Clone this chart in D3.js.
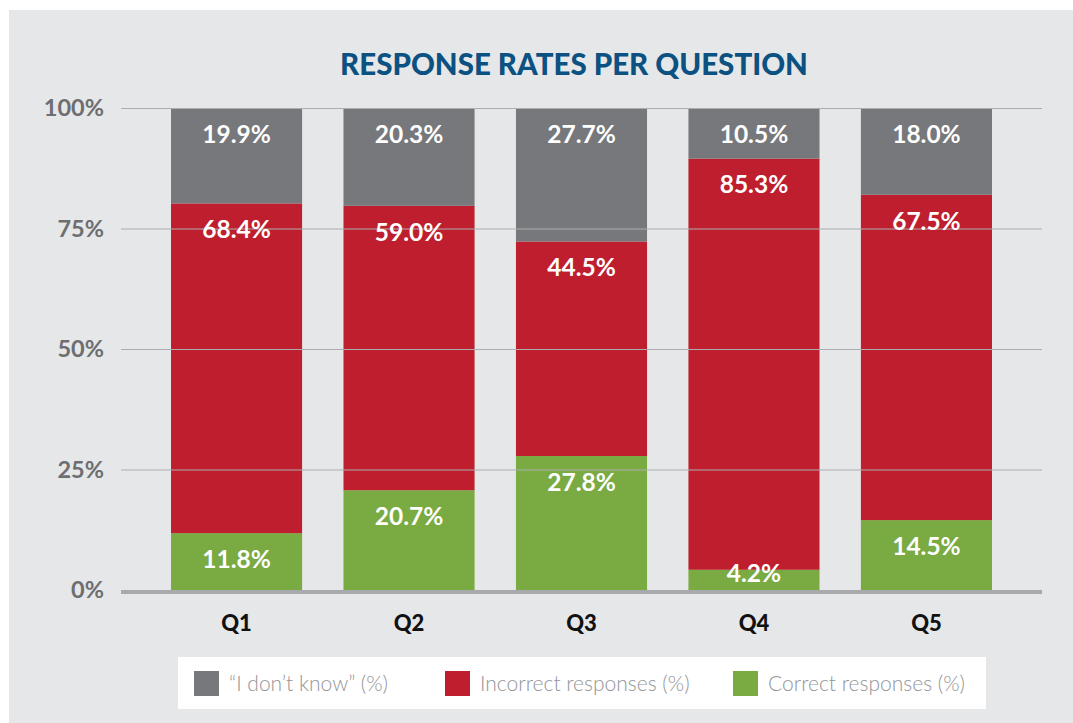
<!DOCTYPE html>
<html><head><meta charset="utf-8">
<script src="https://cdn.jsdelivr.net/npm/d3@7"></script>
<style>html,body{margin:0;padding:0;background:#fff;}</style>
</head><body>
<svg id="chart" width="1073" height="723"></svg>
<script>
const questions = ["Q1","Q2","Q3","Q4","Q5"];
const correct   = [11.8, 20.7, 27.8, 4.2, 14.5];
const incorrect = [68.4, 59.0, 44.5, 85.3, 67.5];
const dontKnow  = [19.9, 20.3, 27.7, 10.5, 18.0];
const yTicks = [0, 25, 50, 75, 100];
const seriesNames = ["\u201CI don\u2019t know\u201D (%)", "Incorrect responses (%)", "Correct responses (%)"];
const seriesColors = ["#77787b", "#be1e2d", "#7aaa42"];

const svg = d3.select("#chart");
svg.append("rect").attr("x", 9).attr("y", 10).attr("width", 1064).attr("height", 713).attr("fill", "#e6e7e8");

const x = d3.scaleBand().domain(questions).range([121, 1042]).paddingInner(0.24).paddingOuter(0.29);
const y = d3.scaleLinear().domain([0, 100]).range([590, 108]);

svg.append("text").attr("x", 574).attr("y", 74.5).attr("text-anchor", "middle")
  .attr("font-family", "Lato, sans-serif").attr("font-weight", 900).attr("font-size", 29.5)
  .attr("fill", "#0b5182").text("RESPONSE RATES PER QUESTION");

// stacked segments: bottom-up correct, incorrect, don't know
const stackVals = [correct, incorrect, dontKnow];
const stackColors = [seriesColors[2], seriesColors[1], seriesColors[0]];
const segs = [];
questions.forEach((q, i) => {
  let base = 0;
  stackVals.forEach((arr, k) => {
    const top = Math.min(100, base + arr[i]);
    segs.push({q, v: arr[i], y0: base, y1: top, color: stackColors[k]});
    base = top;
  });
});

svg.append("g").selectAll("rect").data(segs).join("rect")
  .attr("x", d => x(d.q)).attr("width", x.bandwidth())
  .attr("y", d => y(d.y1)).attr("height", d => y(d.y0) - y(d.y1))
  .attr("fill", d => d.color);

// gridlines
svg.append("g").selectAll("line").data(yTicks.filter(t => t > 0)).join("line")
  .attr("x1", 121).attr("x2", 1042).attr("y1", d => y(d) + 0.5).attr("y2", d => y(d) + 0.5)
  .attr("stroke", "#acadb0").attr("stroke-width", 1);
svg.append("line").attr("x1", 121).attr("x2", 1042).attr("y1", y(0) + 2).attr("y2", y(0) + 2)
  .attr("stroke", "#a7a9ac").attr("stroke-width", 4);

// y tick labels
svg.append("g").selectAll("text").data(yTicks).join("text")
  .attr("x", 104).attr("y", d => y(d)).attr("dy", "0.36em").attr("text-anchor", "end")
  .attr("font-family", "Lato, sans-serif").attr("font-weight", 700).attr("font-size", 23.5)
  .attr("fill", "#6d6e71").text(d => d + "%");

// x labels
svg.append("g").selectAll("text").data(questions).join("text")
  .attr("x", d => x(d) + x.bandwidth() / 2).attr("y", 631).attr("text-anchor", "middle")
  .attr("font-family", "Lato, sans-serif").attr("font-weight", 900).attr("font-size", 22)
  .attr("fill", "#111").text(d => d);

// value labels
svg.append("g").selectAll("text").data(segs).join("text")
  .attr("x", d => x(d.q) + x.bandwidth() / 2)
  .attr("y", d => Math.min(y(d.y1) + 26, y(d.y0) - 17)).attr("dy", "0.36em")
  .attr("text-anchor", "middle")
  .attr("font-family", "Lato, sans-serif").attr("font-weight", 700).attr("font-size", 24.5)
  .attr("fill", "#fff").text(d => d.v.toFixed(1) + "%");

// legend
svg.append("rect").attr("x", 178).attr("y", 657).attr("width", 808).attr("height", 52).attr("fill", "#fff");
const legX = [194, 445, 733];
const lg = svg.append("g").selectAll("g").data(seriesNames).join("g")
  .attr("transform", (d, i) => `translate(${legX[i]},671)`);
lg.append("rect").attr("width", 25).attr("height", 25).attr("fill", (d, i) => seriesColors[i]);
lg.append("text").attr("x", 35).attr("y", 12.5).attr("dy", "0.36em")
  .attr("font-family", "Lato, sans-serif").attr("font-weight", 300).attr("font-size", 21)
  .attr("fill", "#939598").text(d => d);
</script>
</body></html>
